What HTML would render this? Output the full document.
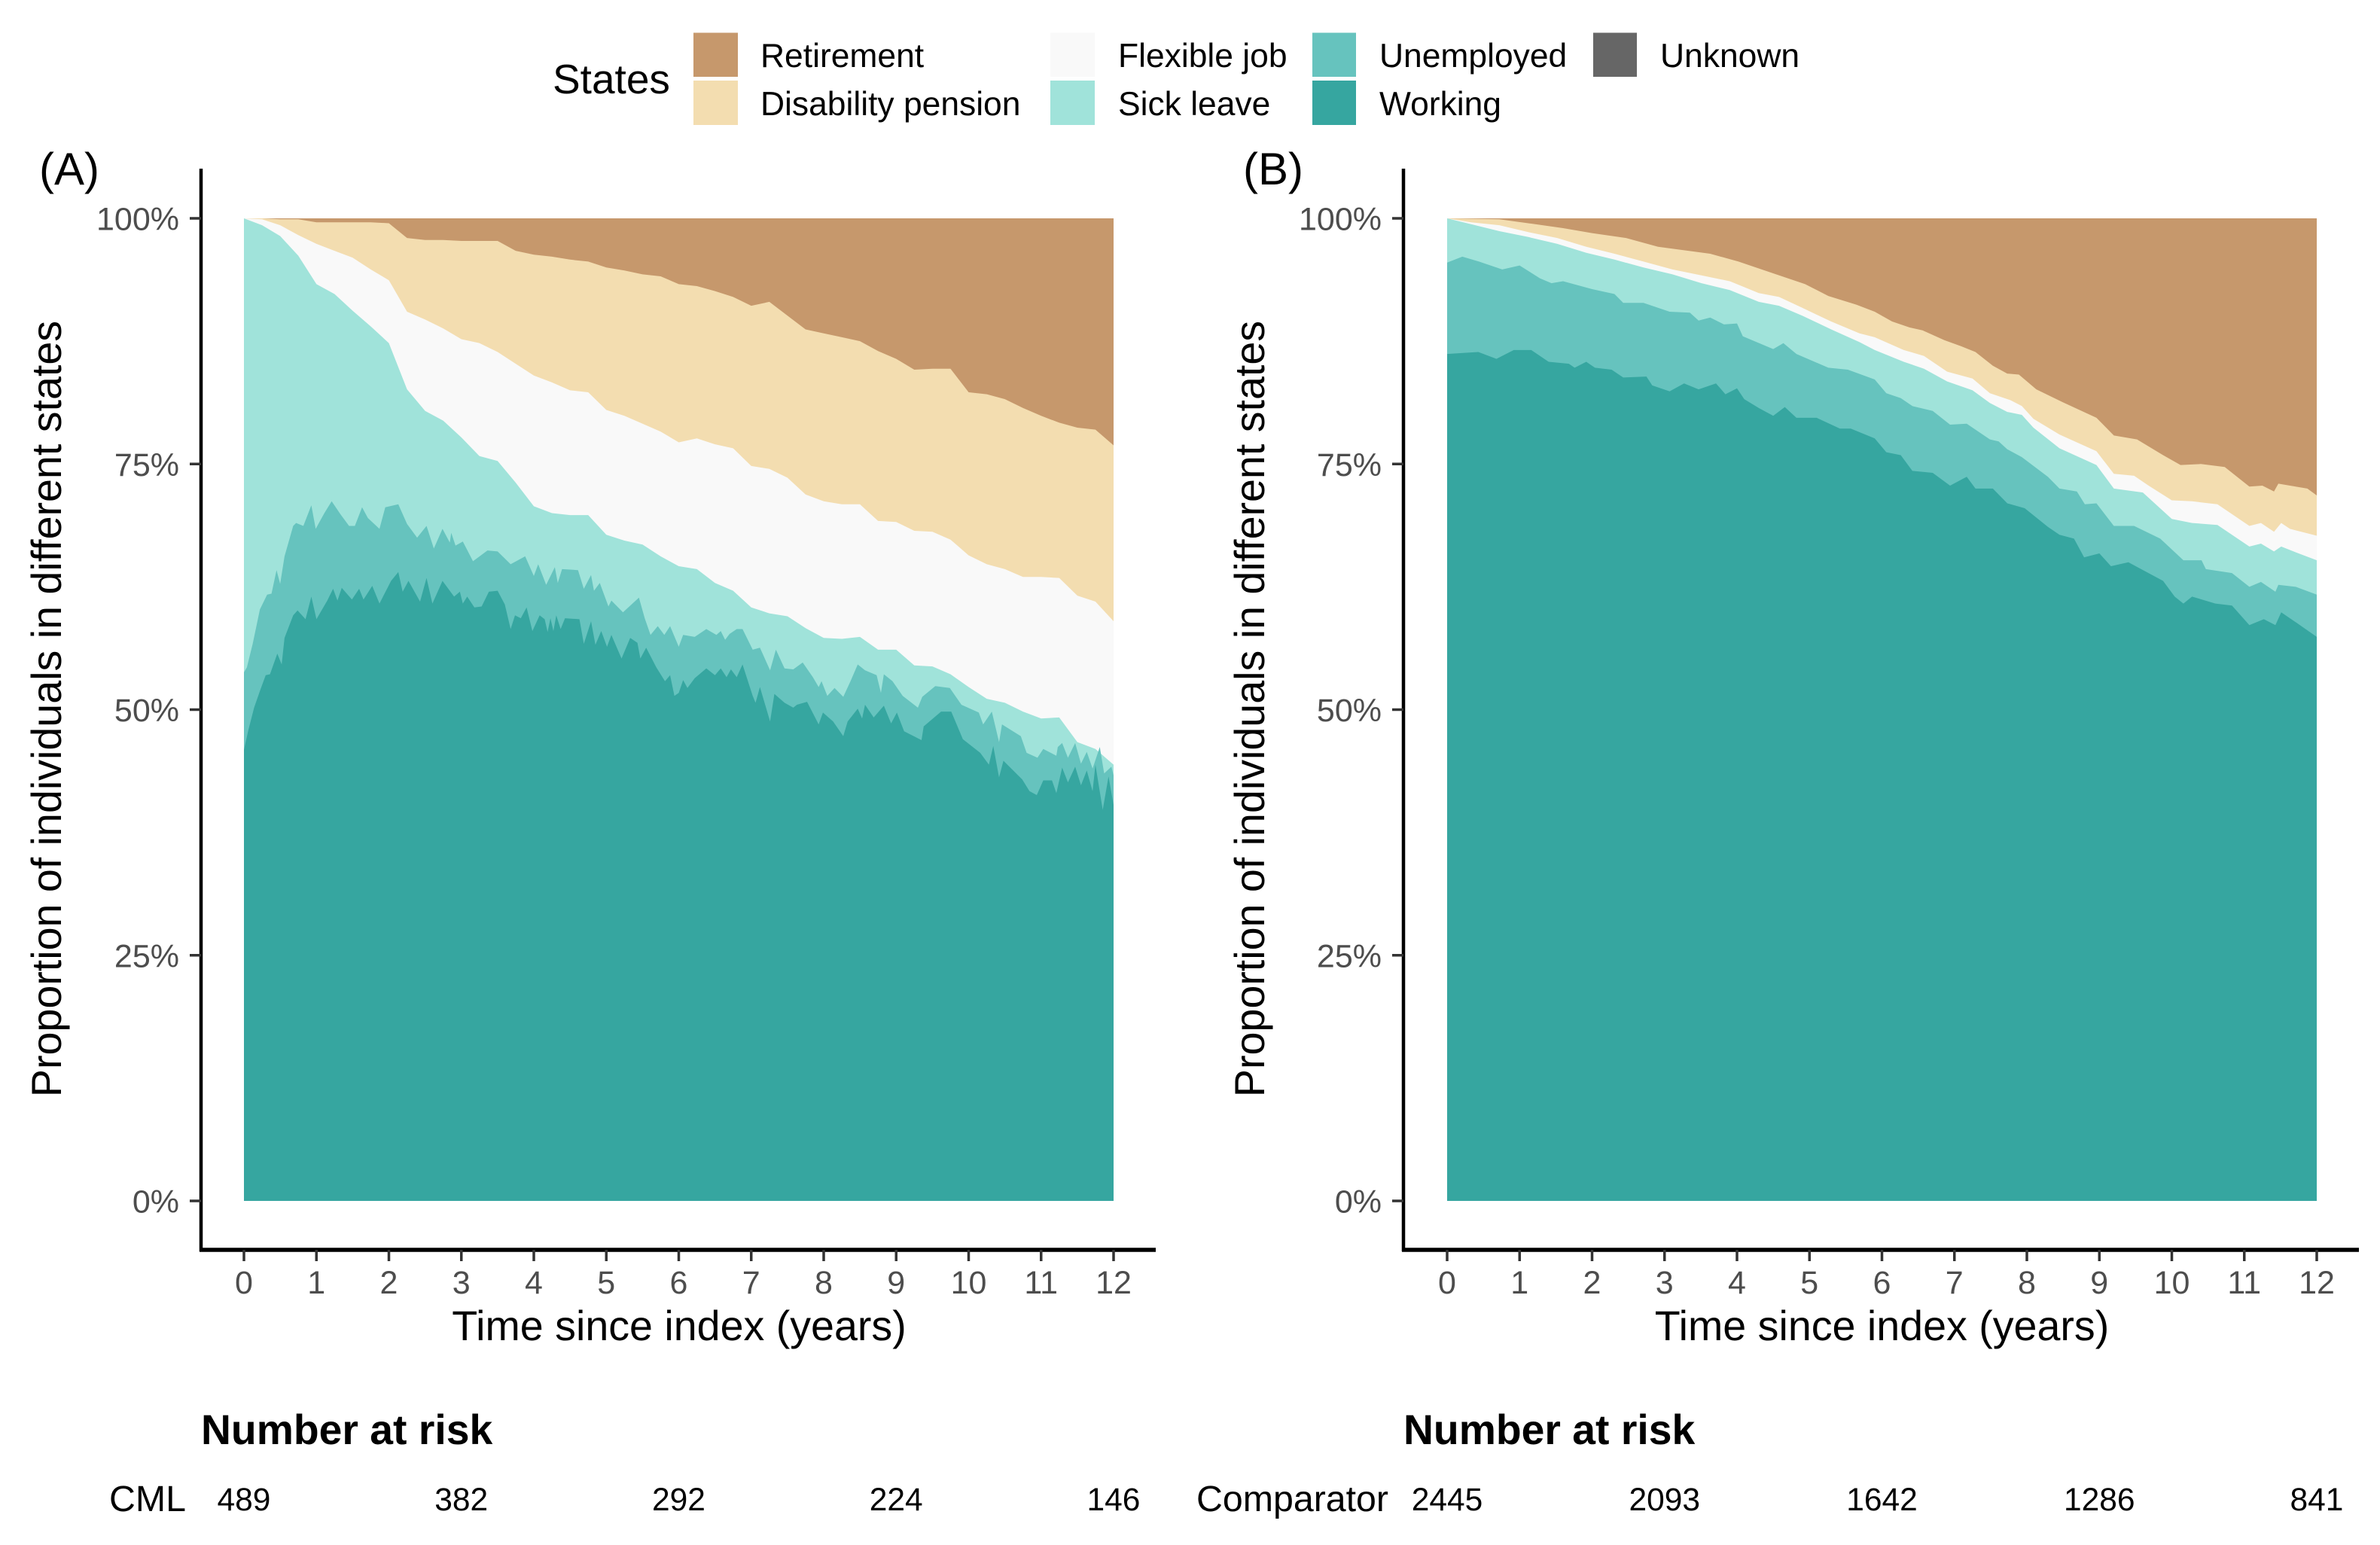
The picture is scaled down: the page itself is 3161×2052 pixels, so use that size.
<!DOCTYPE html>
<html lang="en">
<head>
<meta charset="utf-8">
<title>Proportion of individuals in different states</title>
<style>
html,body{margin:0;padding:0;background:#fff;}
svg{display:block;font-family:"Liberation Sans",sans-serif;}
.axis-title{font-size:55.6px;fill:#000;}
.tick-label{font-size:43px;fill:#4d4d4d;}
.legend-label{font-size:44.4px;fill:#000;}
.risk-title{font-size:55.3px;font-weight:bold;fill:#000;}
.risk-group{font-size:48.3px;fill:#000;}
.risk-value{font-size:42.5px;fill:#000;}
</style>
</head>
<body>
<svg id="chart" xmlns="http://www.w3.org/2000/svg" width="3161" height="2052" viewBox="0 0 3161 2052">
  <rect x="0" y="0" width="3161" height="2052" fill="#ffffff"/>
  <g>
    <text x="734" y="124" style="font-size:55px">States</text>
    <rect x="921" y="43.5" width="59" height="58.5" fill="#c6986c"/>
    <text class="legend-label" x="1010" y="89">Retirement</text>
    <rect x="921" y="107" width="59" height="59" fill="#f3ddb0"/>
    <text class="legend-label" x="1010" y="153">Disability pension</text>
    <rect x="1395" y="43.5" width="59" height="58.5" fill="#f9f9f9"/>
    <text class="legend-label" x="1485" y="89">Flexible job</text>
    <rect x="1395" y="107" width="59" height="59" fill="#a0e3da"/>
    <text class="legend-label" x="1485" y="153">Sick leave</text>
    <rect x="1743" y="43.5" width="58" height="58.5" fill="#66c3be"/>
    <text class="legend-label" x="1832" y="89">Unemployed</text>
    <rect x="1743" y="107" width="58" height="59" fill="#36a6a0"/>
    <text class="legend-label" x="1832" y="153">Working</text>
    <rect x="2116" y="43.5" width="58" height="58.5" fill="#666666"/>
    <text class="legend-label" x="2205" y="89">Unknown</text>
  </g>
  <g id="panel-a"></g>
  <g id="panel-b"></g>
</svg>
<script>
// Shared axis data
const xTickYears = [0,1,2,3,4,5,6,7,8,9,10,11,12];
const yTickPercents = [0,25,50,75,100];
const riskYears = [0,3,6,9,12];
const riskCountsCml = [489,382,292,224,146];
const riskCountsComparator = [2445,2093,1642,1286,841];

// Panel A: upper edge (cumulative %) of each state
const quarterYearsA = [0,.25,.5,.75,1,1.25,1.5,1.75,2,2.25,2.5,2.75,3,3.25,3.5,3.75,4,4.25,4.5,4.75,5,5.25,5.5,5.75,6,6.25,6.5,6.75,7,7.25,7.5,7.75,8,8.25,8.5,8.75,9,9.25,9.5,9.75,10,10.25,10.5,10.75,11,11.25,11.5,11.75,12];
const disabilityTopA = [100,100,99.9,99.9,99.6,99.6,99.6,99.6,99.5,98.0,97.8,97.8,97.7,97.7,97.7,96.7,96.3,96.1,95.8,95.6,95.0,94.7,94.3,94.1,93.3,93.1,92.6,92.0,91.1,91.5,90.1,88.7,88.3,87.9,87.5,86.5,85.7,84.6,84.7,84.7,82.3,82.1,81.6,80.7,79.9,79.2,78.7,78.5,76.9];
const flexibleTopA = [100,99.9,99.3,98.3,97.4,96.7,96.0,94.8,93.7,90.5,89.7,88.8,87.7,87.3,86.4,85.2,84.0,83.3,82.5,82.3,80.5,79.9,79.1,78.3,77.2,77.6,77.0,76.6,74.8,74.5,73.6,71.9,71.2,70.9,70.9,69.2,69.1,68.2,68.1,67.3,65.7,64.8,64.3,63.5,63.5,63.4,61.6,61.0,59.0];
const sickTopA = [100,99.3,98.2,96.2,93.3,92.3,90.6,89.0,87.3,82.6,80.4,79.4,77.7,75.8,75.3,73.1,70.7,70.0,69.8,69.8,67.8,67.2,66.8,65.6,64.6,64.3,62.9,62.1,60.4,59.8,59.5,58.3,57.3,57.2,57.4,56.1,56.1,54.5,54.4,53.6,52.3,51.1,50.7,49.8,49.1,49.2,46.7,46.0,44.4];
const unemployedYearsA = [0,.04,.12,.22,.32,.38,.45,.5,.56,.68,.72,.82,.93,.99,1.11,1.21,1.33,1.45,1.53,1.63,1.71,1.87,1.95,2.13,2.25,2.39,2.52,2.62,2.74,2.84,2.86,2.92,3.02,3.16,3.36,3.5,3.68,3.88,4,4.06,4.17,4.29,4.33,4.39,4.61,4.69,4.79,4.83,4.91,5.03,5.07,5.23,5.45,5.53,5.61,5.71,5.8,5.88,6,6.06,6.22,6.38,6.52,6.58,6.64,6.7,6.8,6.88,7.02,7.12,7.26,7.34,7.46,7.58,7.71,7.85,7.93,7.97,8.05,8.15,8.27,8.37,8.47,8.57,8.73,8.79,8.83,8.95,9.09,9.3,9.36,9.54,9.74,9.9,10.14,10.2,10.32,10.42,10.46,10.72,10.8,10.95,11.03,11.21,11.23,11.29,11.37,11.47,11.55,11.63,11.71,11.81,11.87,11.97,12];
const unemployedTopA = [53.8,54.3,56.7,60.2,61.7,61.8,64.2,62.8,65.6,68.7,69.0,68.7,70.8,68.4,70.0,71.2,69.9,68.7,68.7,70.6,69.5,68.4,70.6,70.9,68.9,67.5,68.7,66.4,68.4,67.0,68.0,66.7,67.1,65.1,66.2,66.1,64.8,65.6,63.6,64.8,62.7,64.5,62.9,64.3,64.2,62.3,63.7,62.1,62.9,60.5,61.1,59.9,61.4,59.3,57.6,58.5,57.6,58.5,56.4,57.6,57.4,58.2,57.6,58.0,57.1,57.7,58.2,58.2,56.1,56.3,54.0,56.1,54.2,54.1,54.8,53.3,52.3,52.9,51.4,52.2,51.3,52.9,54.6,54.0,53.5,51.7,53.6,52.9,51.4,50.2,51.3,52.4,52.2,50.5,49.7,48.5,49.8,46.7,48.5,47.3,45.6,45.1,46.0,45.3,46.2,46.6,45.1,46.6,44.5,45.7,44.0,46.2,43.5,44.2,43.3];
const workingYearsA = [0,.06,.14,.22,.3,.36,.46,.52,.56,.68,.74,.85,.93,1,1.15,1.23,1.29,1.35,1.49,1.59,1.65,1.77,1.87,2.03,2.13,2.19,2.27,2.43,2.52,2.6,2.74,2.9,2.98,3.02,3.08,3.18,3.28,3.38,3.5,3.6,3.68,3.74,3.82,3.9,3.98,4.08,4.15,4.19,4.23,4.27,4.31,4.37,4.43,4.63,4.69,4.79,4.85,4.93,5.01,5.07,5.21,5.33,5.43,5.47,5.55,5.69,5.81,5.88,5.94,6,6.06,6.12,6.22,6.38,6.5,6.58,6.66,6.72,6.8,6.88,7.02,7.06,7.12,7.26,7.32,7.46,7.58,7.63,7.77,7.93,7.99,8.13,8.27,8.33,8.47,8.53,8.57,8.69,8.83,8.93,9.01,9.11,9.35,9.38,9.62,9.76,9.92,10.16,10.28,10.34,10.42,10.48,10.74,10.84,10.94,11.03,11.15,11.21,11.29,11.37,11.47,11.55,11.63,11.71,11.75,11.85,11.93,12];
const workingTopA = [45.9,47.9,50.2,51.9,53.5,53.6,55.7,54.6,57.3,59.6,60.1,59.2,61.5,59.2,61.1,62.3,61.1,62.4,61.2,62.3,61.2,62.6,60.8,63.1,64.0,62.0,63.1,61.0,63.4,60.8,63.1,61.5,62.0,60.8,61.5,60.4,60.5,62.0,62.1,60.7,58.2,59.6,59.3,60.4,58.0,59.6,59.2,57.9,59.3,58.0,59.6,58.2,59.3,59.2,56.7,59.0,56.6,58.0,56.4,57.6,55.2,57.3,56.8,55.2,56.3,54.3,52.9,53.5,51.4,51.7,53.0,52.2,53.2,54.2,53.5,54.2,53.3,54.1,53.3,54.6,51.4,50.7,52.3,48.8,51.6,50.7,50.2,50.5,50.8,48.5,49.7,48.8,47.3,48.8,50.1,49.1,50.5,49.2,50.4,48.6,49.7,47.8,46.9,48.3,49.8,49.8,47.0,45.6,44.4,46.3,43.1,44.8,42.9,41.7,41.3,42.8,42.8,41.5,44.1,42.6,44.2,42.3,43.8,41.7,44.4,39.8,43.2,40.3];

// Panel B: upper edge (cumulative %) of each state
const disabilityYearsB = [0,.72,1.12,1.6,2,2.47,2.91,3.63,4.02,4.54,4.94,5.26,5.65,5.9,6.14,6.38,6.56,6.86,7.09,7.29,7.53,7.73,7.89,8.13,8.49,8.96,9.2,9.52,9.88,10.12,10.4,10.73,11.07,11.25,11.41,11.47,11.87,12];
const disabilityTopB = [100,99.9,99.5,99.0,98.5,98.0,97.1,96.4,95.6,94.3,93.3,92.1,91.2,90.5,89.5,88.9,88.6,87.6,87.0,86.4,85.0,84.2,84.1,82.6,81.3,79.7,77.9,77.5,75.9,74.9,75.0,74.7,72.7,72.8,72.2,73.0,72.5,71.8];
const flexibleYearsB = [0,.33,.72,1.12,1.52,1.92,2.31,2.71,3.11,3.51,3.9,4.3,4.58,4.9,5.3,5.69,5.9,6.3,6.58,6.9,7.25,7.49,7.77,7.93,8.09,8.45,8.96,9.2,9.48,9.68,10,10.28,10.63,11.07,11.23,11.41,11.51,11.63,12];
const flexibleTopB = [100,99.6,99.3,98.6,98.0,97.1,96.4,95.6,94.8,94.2,93.6,92.4,92.0,90.9,89.5,88.3,87.9,86.6,86.0,84.4,83.7,82.2,81.5,80.9,79.6,78.0,76.3,74.0,73.8,72.8,71.3,71.2,70.9,68.7,69.0,68.1,69.0,68.4,67.7];
const sickYearsB = [0,.33,.72,1.12,1.52,1.92,2.31,2.71,3.11,3.51,3.9,4.3,4.58,4.9,5.3,5.69,5.9,6.3,6.58,6.9,7.25,7.49,7.73,7.93,8.09,8.45,8.96,9.2,9.6,10,10.28,10.63,11.07,11.23,11.41,11.51,11.75,12];
const sickTopB = [100,99.4,98.7,98.1,97.4,96.5,95.8,95.0,94.3,93.4,92.7,91.5,91.1,90.1,88.7,87.4,86.6,85.4,84.7,83.4,82.5,81.2,80.3,80.0,78.7,76.6,74.9,72.5,72.1,69.4,69.0,68.8,66.6,66.9,66.1,66.6,65.9,65.2];
const unemployedYearsB = [0,.21,.44,.76,1,1.28,1.44,1.6,2,2.31,2.43,2.71,3.07,3.35,3.47,3.63,3.82,4,4.08,4.5,4.64,4.82,5.26,5.53,5.9,6.06,6.26,6.42,6.7,6.94,7.17,7.49,7.61,7.73,7.93,8.29,8.45,8.69,8.8,8.96,9.2,9.48,9.84,10.16,10.41,10.47,10.83,11.07,11.23,11.43,11.47,11.71,12];
const unemployedTopB = [95.5,96.1,95.6,94.8,95.2,93.9,93.4,93.6,92.8,92.3,91.4,91.4,90.5,90.4,89.6,89.9,89.2,89.3,88.0,86.7,87.3,86.2,84.8,84.6,83.6,82.2,81.7,80.9,80.4,79.0,79.1,77.5,77.3,76.5,75.7,73.7,72.5,72.2,70.9,71.0,68.7,68.7,67.4,65.2,65.2,64.3,63.9,62.5,63.0,62.0,62.7,62.5,61.7];
const workingYearsB = [0,.43,.68,.92,1.16,1.4,1.68,1.76,1.92,2.04,2.27,2.43,2.75,2.83,3.07,3.27,3.47,3.71,3.84,4,4.1,4.3,4.5,4.66,4.82,5.1,5.42,5.57,5.9,6.06,6.26,6.42,6.7,6.94,7.17,7.29,7.53,7.73,7.97,8.29,8.45,8.65,8.79,9,9.16,9.4,9.88,10.04,10.16,10.28,10.6,10.83,11.07,11.27,11.43,11.51,11.71,12];
const workingTopB = [86.2,86.4,85.7,86.6,86.6,85.4,85.2,84.8,85.4,84.8,84.6,83.8,83.9,83.0,82.4,83.2,82.6,83.2,82.1,82.7,81.6,80.7,79.9,80.8,79.7,79.7,78.6,78.6,77.6,76.2,75.9,74.3,74.1,72.8,73.7,72.5,72.5,71.0,70.5,68.6,67.8,67.4,65.5,65.9,64.6,65.0,63.1,61.5,60.8,61.5,60.8,60.6,58.6,59.2,58.6,59.9,58.9,57.4];

const retirementYears = [0,12];
const retirementTop = [100,100];

const SVG_NS = 'http://www.w3.org/2000/svg';

function makeEl(tag, parent, attrs, text) {
  const el = document.createElementNS(SVG_NS, tag);
  for (const key in attrs) el.setAttribute(key, attrs[key]);
  if (text !== undefined) el.textContent = text;
  parent.appendChild(el);
  return el;
}

function drawArea(parent, name, years, tops, color, xScale, yScale) {
  let d = 'M' + xScale(years[0]).toFixed(1) + ' ' + yScale(0).toFixed(1);
  for (let i = 0; i < years.length; i++) {
    d += 'L' + xScale(years[i]).toFixed(1) + ' ' + yScale(tops[i]).toFixed(1);
  }
  d += 'L' + xScale(years[years.length - 1]).toFixed(1) + ' ' + yScale(0).toFixed(1) + 'Z';
  const area = makeEl('path', parent, { d: d, fill: color });
  
  
}

function drawPanel(cfg) {
  const root = document.getElementById(cfg.id);
  const xScale = t => cfg.x0 + (t / 12) * (cfg.x12 - cfg.x0);
  const yScale = p => 1595 - (p / 100) * 1305;

  for (const s of cfg.series) {
    drawArea(root, s.name, s.years, s.tops, s.color, xScale, yScale);
  }

  const yAxis = makeEl('line', root, { x1: cfg.spine, x2: cfg.spine, y1: 224, y2: 1662, stroke: '#000', 'stroke-width': 4.5 });
  
  
  const xAxis = makeEl('line', root, { x1: cfg.spine - 2, x2: cfg.xEnd, y1: 1660, y2: 1660, stroke: '#000', 'stroke-width': 5.5 });
  
  

  for (const p of yTickPercents) {
    const tick = makeEl('line', root, { x1: cfg.spine - 15, x2: cfg.spine, y1: yScale(p), y2: yScale(p), stroke: '#333', 'stroke-width': 3.5 });
    
    
    const label = makeEl('text', root, { x: cfg.spine - 29, y: yScale(p) + 15.5, 'text-anchor': 'end', class: 'tick-label' }, p + '%');
    
    
  }

  for (const t of xTickYears) {
    const tick = makeEl('line', root, { x1: xScale(t), x2: xScale(t), y1: 1660, y2: 1675, stroke: '#333', 'stroke-width': 3.5 });
    
    
    const label = makeEl('text', root, { x: xScale(t), y: 1718, 'text-anchor': 'middle', class: 'tick-label' }, String(t));
    
    
  }

  const xTitle = makeEl('text', root, { x: (cfg.spine + cfg.xEnd) / 2 + 1, y: 1780, 'text-anchor': 'middle', class: 'axis-title' }, 'Time since index (years)');
  
  

  const yTitle = makeEl('text', root, { x: 0, y: 0, 'text-anchor': 'middle', class: 'axis-title', transform: 'translate(' + cfg.yTitleX + ' 941.5) rotate(-90)' }, 'Proportion of individuals in different states');
  
  

  const tag = makeEl('text', root, { x: cfg.tagX, y: 245, style: 'font-size:60px;fill:#000' }, cfg.tag);
  
  

  const riskTitle = makeEl('text', root, { x: cfg.spine, y: 1918, class: 'risk-title' }, 'Number at risk');
  
  

  const riskGroup = makeEl('text', root, { x: cfg.spine - 20, y: 2007, 'text-anchor': 'end', class: 'risk-group' }, cfg.group);
  
  

  riskYears.forEach((t, i) => {
    const value = makeEl('text', root, { x: xScale(t), y: 2006, 'text-anchor': 'middle', class: 'risk-value' }, String(cfg.counts[i]));
    
    
  });
}

drawPanel({
  id: 'panel-a', x0: 324, x12: 1479, spine: 267, xEnd: 1535, yTitleX: 81, tagX: 52, tag: '(A)',
  group: 'CML', counts: riskCountsCml,
  series: [
    { name: 'area-retirement', years: retirementYears, tops: retirementTop, color: '#c6986c' },
    { name: 'area-disability-pension', years: quarterYearsA, tops: disabilityTopA, color: '#f3ddb0' },
    { name: 'area-flexible-job', years: quarterYearsA, tops: flexibleTopA, color: '#f9f9f9' },
    { name: 'area-sick-leave', years: quarterYearsA, tops: sickTopA, color: '#a0e3da' },
    { name: 'area-unemployed', years: unemployedYearsA, tops: unemployedTopA, color: '#66c3be' },
    { name: 'area-working', years: workingYearsA, tops: workingTopA, color: '#36a6a0' }
  ]
});

drawPanel({
  id: 'panel-b', x0: 1922, x12: 3077, spine: 1864, xEnd: 3133, yTitleX: 1679, tagX: 1651, tag: '(B)',
  group: 'Comparator', counts: riskCountsComparator,
  series: [
    { name: 'area-retirement', years: retirementYears, tops: retirementTop, color: '#c6986c' },
    { name: 'area-disability-pension', years: disabilityYearsB, tops: disabilityTopB, color: '#f3ddb0' },
    { name: 'area-flexible-job', years: flexibleYearsB, tops: flexibleTopB, color: '#f9f9f9' },
    { name: 'area-sick-leave', years: sickYearsB, tops: sickTopB, color: '#a0e3da' },
    { name: 'area-unemployed', years: unemployedYearsB, tops: unemployedTopB, color: '#66c3be' },
    { name: 'area-working', years: workingYearsB, tops: workingTopB, color: '#36a6a0' }
  ]
});
</script>
</body>
</html>
